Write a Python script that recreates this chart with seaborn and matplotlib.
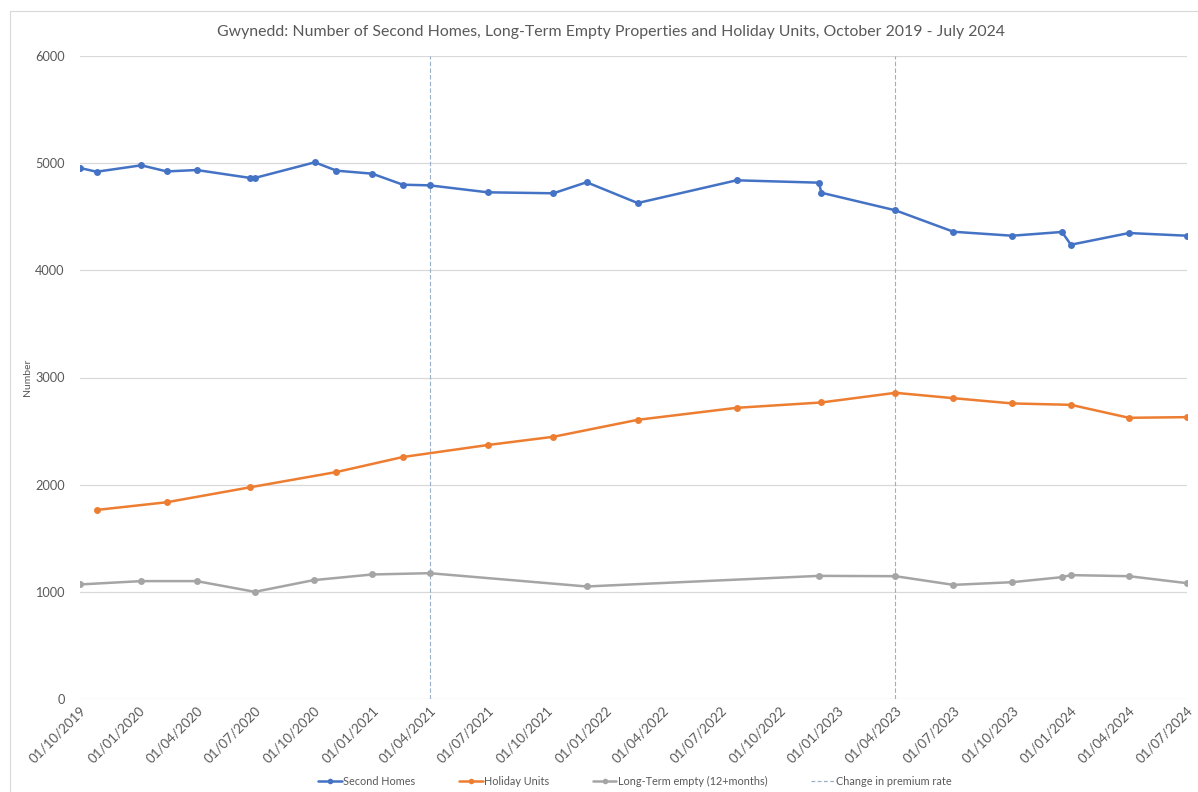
import pandas as pd
import matplotlib
matplotlib.use("Agg")
import matplotlib.pyplot as plt
import matplotlib.dates as mdates
from matplotlib.lines import Line2D
import seaborn as sns

# data
second_dates = ["2019-10-01", "2019-10-27", "2020-01-05", "2020-02-14", "2020-04-01",
                "2020-06-24", "2020-07-01", "2020-10-03", "2020-11-06", "2021-01-01",
                "2021-02-18", "2021-04-01", "2021-07-01", "2021-10-12", "2021-12-03",
                "2022-02-21", "2022-07-26", "2022-12-02", "2022-12-06", "2023-04-01",
                "2023-07-01", "2023-10-01", "2023-12-18", "2024-01-01", "2024-04-01",
                "2024-07-01"]
second_homes = [4955, 4920, 4980, 4923, 4936, 4862, 4862, 5008, 4930, 4902,
                4799, 4793, 4728, 4719, 4822, 4628, 4840, 4818, 4724, 4560,
                4360, 4323, 4358, 4239, 4348, 4323]

holiday_dates = ["2019-10-27", "2020-02-14", "2020-06-24", "2020-11-06", "2021-02-18",
                 "2021-07-01", "2021-10-12", "2022-02-21", "2022-07-26", "2022-12-06",
                 "2023-04-01", "2023-07-01", "2023-10-01", "2024-01-01", "2024-04-01",
                 "2024-07-01"]
holiday_units = [1764, 1836, 1976, 2118, 2258, 2370, 2447, 2605, 2717, 2767,
                 2857, 2807, 2758, 2745, 2624, 2630]

empty_dates = ["2019-10-01", "2020-01-05", "2020-04-01", "2020-07-01", "2020-10-01",
               "2021-01-01", "2021-04-01", "2021-12-03", "2022-12-02", "2023-04-01",
               "2023-07-01", "2023-10-01", "2023-12-18", "2024-01-01", "2024-04-01",
               "2024-07-01"]
long_term_empty = [1069, 1100, 1100, 1000, 1109, 1162, 1174, 1050, 1149, 1146,
                   1065, 1090, 1137, 1156, 1146, 1081]

premium_changes = ["2021-04-01", "2023-04-01"]
tick_dates = pd.date_range("2019-10-01", "2024-07-01", freq="QS-OCT")

sns.set_style("white")
plt.rcParams["font.family"] = ["Lato", "DejaVu Sans"]

fig = plt.figure(figsize=(11.98, 7.92), dpi=100)
ax = fig.add_axes([80 / 1198, 1 - 699 / 792, 1107 / 1198, 643 / 792])

series = [
    ("Second Homes", second_dates, second_homes, "#4472C4"),
    ("Holiday Units", holiday_dates, holiday_units, "#ED7D31"),
    ("Long-Term empty (12+months)", empty_dates, long_term_empty, "#A5A5A5"),
]
for name, d, v, c in series:
    df = pd.DataFrame({"date": pd.to_datetime(d), "value": v})
    sns.lineplot(data=df, x="date", y="value", ax=ax, color=c, lw=1.8,
                 marker="o", markersize=5, markeredgewidth=0, zorder=3, sort=False)

dash_col = "#9AAFC9"
for d in premium_changes:
    ax.axvline(pd.Timestamp(d), color=dash_col, lw=0.8, ls=(0, (4, 2)), zorder=2)

ax.set_ylim(0, 6000)
ax.set_yticks(range(0, 6001, 1000))
ax.set_xlim(tick_dates[0], tick_dates[-1])
ax.set_xticks(tick_dates)
ax.xaxis.set_major_formatter(mdates.DateFormatter("%d/%m/%Y"))
ax.grid(axis="y", color="#D9D9D9", lw=0.9)
ax.grid(axis="x", visible=False)
for s in ax.spines.values():
    s.set_visible(False)
ax.tick_params(axis="both", length=0, colors="#595959")
ax.tick_params(axis="x", labelsize=9.6, pad=4)
ax.tick_params(axis="y", labelsize=9.2, pad=11)
for lab in ax.get_xticklabels():
    lab.set_rotation(45)
    lab.set_ha("right")
    lab.set_rotation_mode("anchor")
ax.set_xlabel("")
ax.set_ylabel("Number", fontsize=7.5, color="#595959")
ax.yaxis.set_label_coords(-(80 - 32) / 1107, 0.5)

fig.text(0.51, 1 - 32 / 792, "Gwynedd: Number of Second Homes, Long-Term Empty Properties and Holiday Units, October 2019 - July 2024",
         ha="center", va="center", fontsize=11.4, color="#595959")

handles = [Line2D([], [], color=c, lw=1.8, marker="o", markersize=4, markeredgewidth=0)
           for _, _, _, c in series]
handles.append(Line2D([], [], color=dash_col, lw=0.9, ls=(0, (3, 2))))
labels = [s[0] for s in series] + ["Change in premium rate"]
fig.legend(handles, labels, loc="center", bbox_to_anchor=(0.53, 1 - 781 / 792), ncol=4,
           frameon=False, fontsize=7.8, labelcolor="#595959", columnspacing=4.0,
           handlelength=2.2, handletextpad=0.15)

# chart frame (only left and top edges fall inside the image)
fig.add_artist(Line2D([10 / 1198, 10 / 1198], [0, 1 - 11 / 792], transform=fig.transFigure,
                      color="#D9D9D9", lw=0.8))
fig.add_artist(Line2D([10 / 1198, 1], [1 - 11 / 792, 1 - 11 / 792], transform=fig.transFigure,
                      color="#D9D9D9", lw=0.8))

fig.savefig("out.png", dpi=100)
